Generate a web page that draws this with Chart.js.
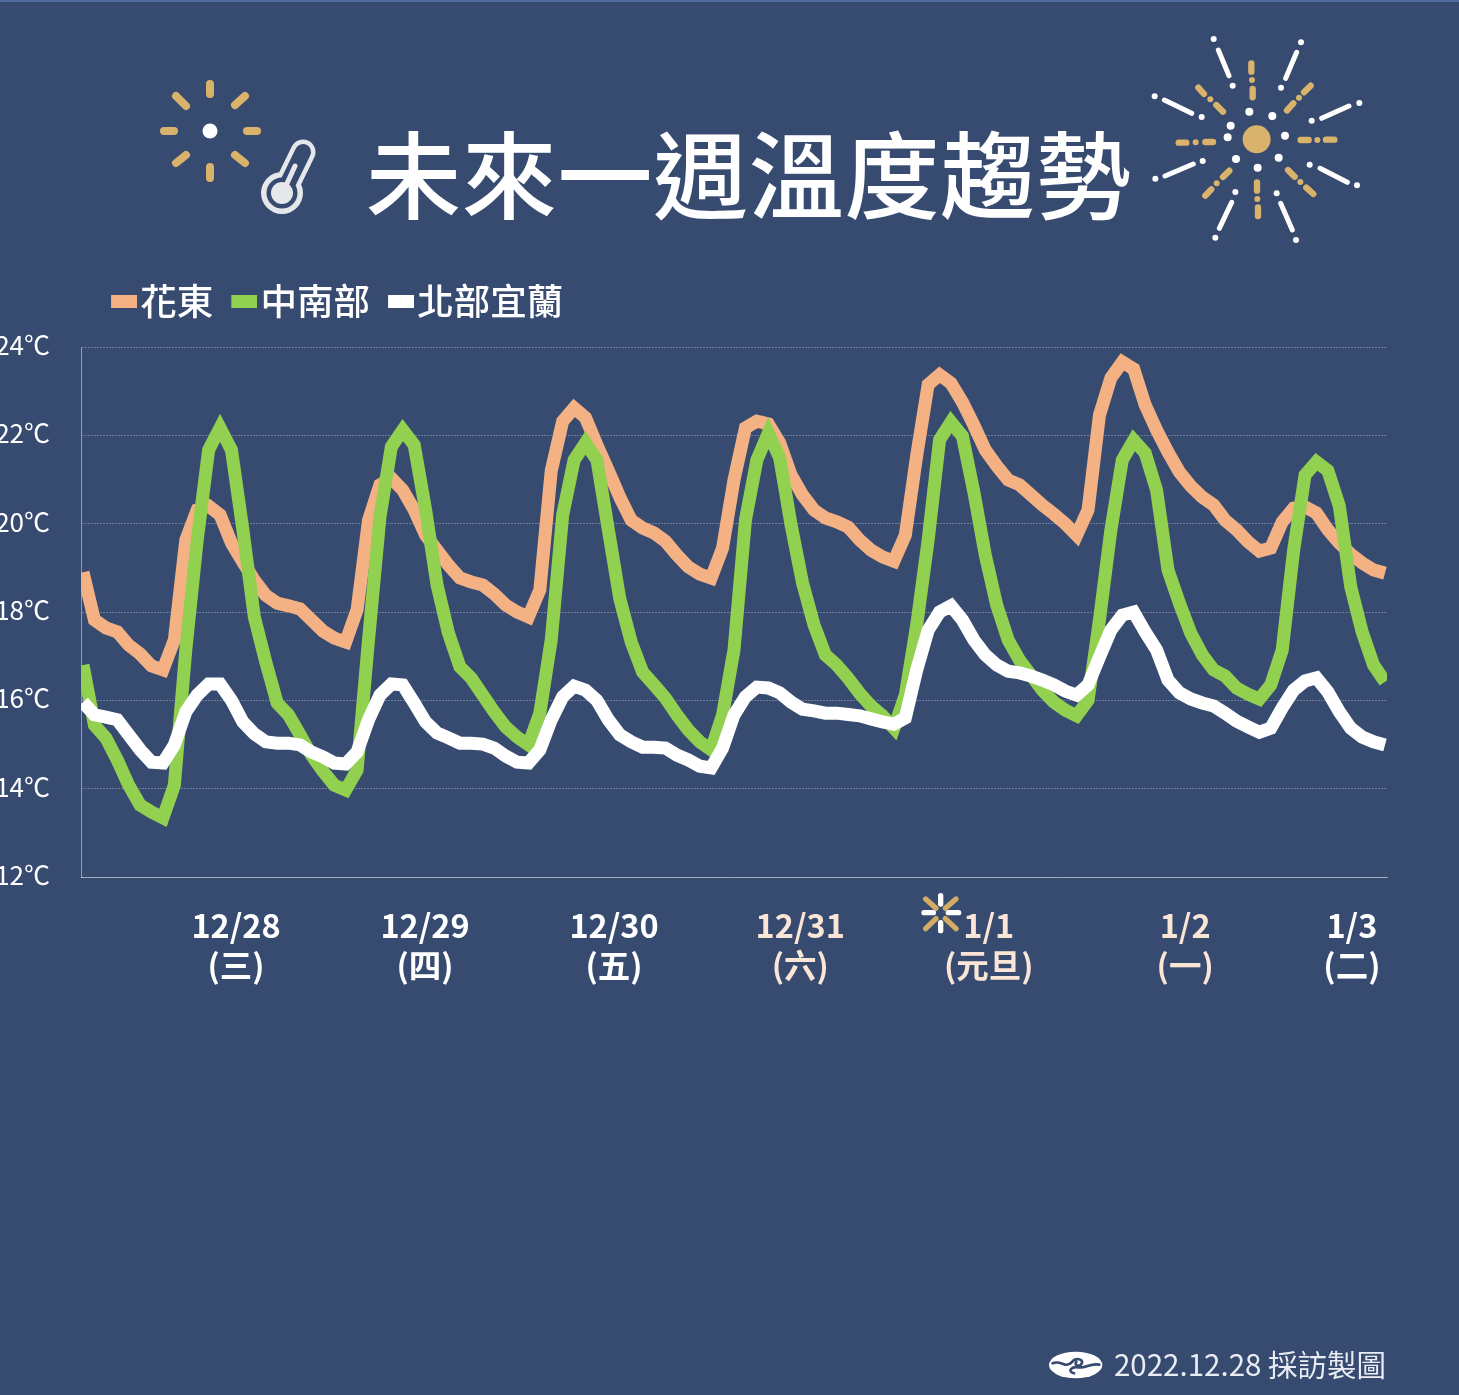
<!DOCTYPE html>
<html lang="zh-Hant">
<head>
<meta charset="utf-8">
<title>未來一週溫度趨勢</title>
<script src="https://cdn.jsdelivr.net/npm/chart.js@4/dist/chart.umd.min.js"></script>
<style>
html,body{margin:0;padding:0;background:#374b70;overflow:hidden}
#stage{position:relative;width:1459px;height:1395px;overflow:hidden;background:#374b70;border-top:0;font-family:"Noto Sans CJK TC","Noto Sans",sans-serif}
#topline{position:absolute;left:0;top:0;width:1459px;height:2px;background:#4f6c9c}
canvas{position:absolute;left:0;top:0}
#title{position:absolute;left:366px;top:106px;font-size:95px;line-height:130px;font-weight:500;letter-spacing:.7px;color:#fff;white-space:nowrap}
#foot{position:absolute;right:73px;top:1342px;font-size:29.5px;line-height:42px;color:#e9edf3;white-space:nowrap}
svg{position:absolute;left:0;top:0;pointer-events:none}
</style>
</head>
<body>
<div id="stage">
<div id="topline"></div>
<canvas id="c" width="1459" height="1395"></canvas>
<div id="title">未來一週溫度趨勢</div>
<div id="foot">2022.12.28 採訪製圖</div>
<svg width="1459" height="1395" viewBox="0 0 1459 1395">
  <g stroke="#d9b36c" stroke-width="8" stroke-linecap="round" fill="none">
    <path d="M210 84V94M210 167V178M164 131H174M247 131H257M176 96L186 106M235 105L245 96M176 163L186 155M235 155L245 163"/>
  </g>
  <circle cx="210" cy="131" r="7.5" fill="#fff"/>
  <g fill="none" stroke-linecap="round">
    <path d="M283 193L303 152" stroke="#e6e7ea" stroke-width="25"/>
    <circle cx="282" cy="193" r="21" fill="#e6e7ea"/>
    <path d="M283 193L303 152" stroke="#374b70" stroke-width="16"/>
    <circle cx="282" cy="193" r="15.5" fill="#374b70"/>
    <circle cx="282" cy="193" r="11" fill="#e6e7ea"/>
    <path d="M284 190L295 166" stroke="#e6e7ea" stroke-width="5"/>
  </g>
  <g transform="translate(1040,20) scale(0.33333)">
    <circle cx="650" cy="358" r="42" fill="#d9b36c"/>
    <g fill="#fff">
      <circle cx="628" cy="275" r="12"/><circle cx="697" cy="288" r="12"/><circle cx="735" cy="347" r="12"/><circle cx="716" cy="413" r="12"/>
      <circle cx="653" cy="443" r="12"/><circle cx="588" cy="417" r="12"/><circle cx="563" cy="352" r="12"/><circle cx="572" cy="317" r="12"/>
      <circle cx="521" cy="57" r="9"/><circle cx="578" cy="197" r="9"/><circle cx="783" cy="67" r="9"/><circle cx="723" cy="203" r="9"/>
      <circle cx="344" cy="229" r="9"/><circle cx="485" cy="291" r="9"/><circle cx="958" cy="249" r="9"/><circle cx="815" cy="302" r="9"/>
      <circle cx="346" cy="476" r="9"/><circle cx="488" cy="423" r="9"/><circle cx="951" cy="496" r="9"/><circle cx="809" cy="434" r="9"/>
      <circle cx="586" cy="516" r="9"/><circle cx="526" cy="653" r="9"/><circle cx="710" cy="520" r="9"/><circle cx="768" cy="660" r="9"/>
    </g>
    <path stroke="#fff" stroke-width="15" stroke-linecap="round" fill="none" d="M535 90L567 167M770 97L737 175M373 240L455 280M927 258L845 295M375 468L460 432M840 445L922 487M575 547L538 625M722 550L757 630"/>
    <path stroke="#d9b36c" stroke-width="19" stroke-linecap="round" fill="none" d="M634 130V155M638 207V232M812 197L792 217M760 250L741 271M782 360H806M858 359H883M744 450L764 470M799 503L820 522M651 487V512M654 562V588M568 452L549 471M514 508L496 527M519 366H496M439 368H416M475 203L492 222M529 255L549 275"/>
    <g fill="#d9b36c"><circle cx="636" cy="180" r="9"/><circle cx="777" cy="233" r="9"/><circle cx="832" cy="360" r="9"/><circle cx="781" cy="486" r="9"/><circle cx="652" cy="537" r="9"/><circle cx="530" cy="490" r="9"/><circle cx="467" cy="367" r="9"/><circle cx="511" cy="238" r="9"/></g>
  </g>
  <g transform="translate(900,880) scale(0.33333)" stroke-linecap="round" fill="none" stroke-width="16">
    <path stroke="#d3ac62" d="M77 57L108 85M168 57L136 85M77 146L108 116M168 146L136 116"/>
    <path stroke="#fff" d="M122 47V72M122 128V152M72 98H100M145 98H176"/>
  </g>
  <g transform="translate(1030,1330) scale(0.33333)">
    <ellipse cx="137" cy="105" rx="80" ry="40" fill="#fff"/>
    <path d="M68 100C95 88 105 118 126 96C136 82 162 86 155 101C150 112 130 106 139 96M132 130C110 124 125 108 146 112C168 116 180 98 208 104" stroke="#374b70" stroke-width="8" fill="none" stroke-linecap="round"/>
  </g>
</svg>
</div>
<script>
const huadong = [18.9,17.82,17.64,17.55,17.25,17.05,16.78,16.69,17.37,19.63,20.31,20.4,20.2,19.56,19.13,18.72,18.38,18.2,18.14,18.07,17.82,17.57,17.41,17.32,18.05,20.08,20.88,21.03,20.76,20.31,19.74,19.4,19.06,18.77,18.68,18.61,18.41,18.16,18.0,17.89,18.5,21.2,22.32,22.62,22.4,21.78,21.2,20.6,20.08,19.9,19.79,19.6,19.29,19.02,18.86,18.77,19.45,20.99,22.17,22.32,22.26,21.83,21.1,20.65,20.31,20.13,20.04,19.92,19.63,19.4,19.25,19.15,19.74,21.55,23.15,23.37,23.18,22.75,22.23,21.67,21.31,20.99,20.88,20.65,20.42,20.22,20.0,19.74,20.31,22.46,23.3,23.66,23.5,22.69,22.12,21.62,21.17,20.85,20.6,20.42,20.08,19.86,19.59,19.38,19.45,20.04,20.35,20.38,20.24,19.86,19.56,19.31,19.11,18.95,18.88];
const central = [16.8,15.44,15.15,14.65,14.08,13.63,13.47,13.34,14.08,17.14,19.63,21.67,22.17,21.67,19.86,17.89,16.87,15.94,15.67,15.22,14.76,14.4,14.08,13.97,14.42,17.37,20.15,21.74,22.12,21.78,20.31,18.61,17.52,16.76,16.5,16.12,15.74,15.4,15.17,14.99,15.71,17.37,20.2,21.44,21.83,21.44,19.86,18.3,17.32,16.64,16.35,16.05,15.67,15.33,15.06,14.88,15.67,17.14,20.08,21.44,22.05,21.49,19.97,18.66,17.71,17.03,16.8,16.5,16.16,15.87,15.65,15.37,16.12,17.71,19.63,21.9,22.3,21.98,20.72,19.29,18.16,17.37,16.91,16.57,16.23,15.96,15.78,15.65,16.0,17.82,19.86,21.44,21.89,21.6,20.76,18.95,18.2,17.52,17.03,16.69,16.55,16.28,16.14,16.03,16.35,17.14,19.4,21.1,21.4,21.2,20.4,18.57,17.55,16.8,16.42];
const northYilan = [15.96,15.67,15.62,15.56,15.22,14.88,14.6,14.58,14.99,15.74,16.12,16.37,16.37,16.0,15.51,15.24,15.06,15.03,15.03,14.99,14.83,14.72,14.58,14.56,14.83,15.56,16.12,16.37,16.35,15.94,15.51,15.26,15.15,15.03,15.03,15.01,14.92,14.74,14.6,14.58,14.88,15.56,16.08,16.32,16.23,16.0,15.56,15.22,15.06,14.94,14.94,14.92,14.76,14.65,14.51,14.47,14.92,15.67,16.08,16.3,16.28,16.17,15.96,15.8,15.76,15.71,15.71,15.68,15.65,15.58,15.51,15.46,15.6,16.69,17.59,18.0,18.14,17.82,17.37,17.03,16.8,16.66,16.62,16.55,16.46,16.35,16.21,16.12,16.35,16.98,17.59,17.93,18.0,17.55,17.14,16.46,16.17,16.03,15.94,15.87,15.71,15.53,15.4,15.28,15.37,15.83,16.23,16.44,16.51,16.19,15.74,15.37,15.17,15.06,14.99];
const seriesNames = ['花東','中南部','北部宜蘭'];
const seriesColors = ['#f4b183','#92d050','#ffffff'];
const dayTicks = [13.4,29.95,46.5,62.8,79.3,96.5,111.1];
const dayLabels = [['12/28','(三)'],['12/29','(四)'],['12/30','(五)'],['12/31','(六)'],['1/1','(元旦)'],['1/2','(一)'],['1/3','(二)']];
const dayColors = ['#ffffff','#ffffff','#ffffff','#fbe5d6','#fbe5d6','#fbe5d6','#ffffff'];
const yTicks = [12,14,16,18,20,22,24];

const FONT = '"Noto Sans CJK TC","Noto Sans",sans-serif';
function swatch(color){
  const s=document.createElement('canvas'); s.width=30; s.height=13;
  const g=s.getContext('2d'); g.fillStyle=color; g.fillRect(4,0,26,13); return s;
}
function ds(label,values,color,order){
  return {label,data:values.map((y,x)=>({x,y})),borderColor:color,backgroundColor:color,borderWidth:13,
    pointRadius:0,pointStyle:swatch(color),tension:0,borderJoinStyle:'miter',borderCapStyle:'butt',order,fill:false};
}
const placeLegend={id:'placeLegend',afterLayout(chart){
  const l=chart.legend; if(!l) return;
  const w=l.width; l.left=93; l.right=93+w; l.top=253.75; l.bottom=253.75+l.height;
}};
new Chart(document.getElementById('c'),{
  type:'line',
  data:{datasets:[ds(seriesNames[0],huadong,seriesColors[0],3),ds(seriesNames[1],central,seriesColors[1],2),ds(seriesNames[2],northYilan,seriesColors[2],1)]},
  plugins:[placeLegend],
  options:{
    responsive:false,animation:false,devicePixelRatio:1,
    parsing:false,normalized:true,
    layout:{padding:{left:0,right:72,top:271.5,bottom:0}},
    plugins:{
      tooltip:{enabled:false},
      title:{display:false},
      legend:{display:true,position:'top',align:'start',
        labels:{usePointStyle:true,pointStyleWidth:0.01,boxWidth:0.01,boxHeight:14,padding:29,color:'#ffffff',
          sort:(a,b)=>a.datasetIndex-b.datasetIndex,
          font:{family:FONT,size:36.5,weight:'500'}}}
    },
    scales:{
      x:{type:'linear',min:-0.175,max:114.175,
        afterBuildTicks(s){s.ticks=dayTicks.map(value=>({value}));},
        afterFit(s){s.height=518;},
        grid:{display:false,drawTicks:false},
        border:{display:true,color:'rgba(255,255,255,.45)',width:1},
        ticks:{autoSkip:false,maxRotation:0,minRotation:0,padding:29,
          color:c=>dayColors[c.index],
          font:{family:FONT,size:32.5,weight:'700',lineHeight:1.23},
          callback:(v,i)=>dayLabels[i]}},
      y:{min:12,max:24,
        afterBuildTicks(s){s.ticks=yTicks.map(value=>({value}));},
        afterFit(s){s.width=81;},
        grid:{color:'rgba(255,255,255,.27)',lineWidth:1,drawTicks:false},
        border:{display:true,color:'rgba(255,255,255,.45)',width:1,dash:[2,1]},
        ticks:{padding:31,color:'#ffffff',font:{family:FONT,size:26,weight:'400',lineHeight:'4px'},callback:v=>[v+'℃','']}}
    }
  }
});
</script>
</body>
</html>
